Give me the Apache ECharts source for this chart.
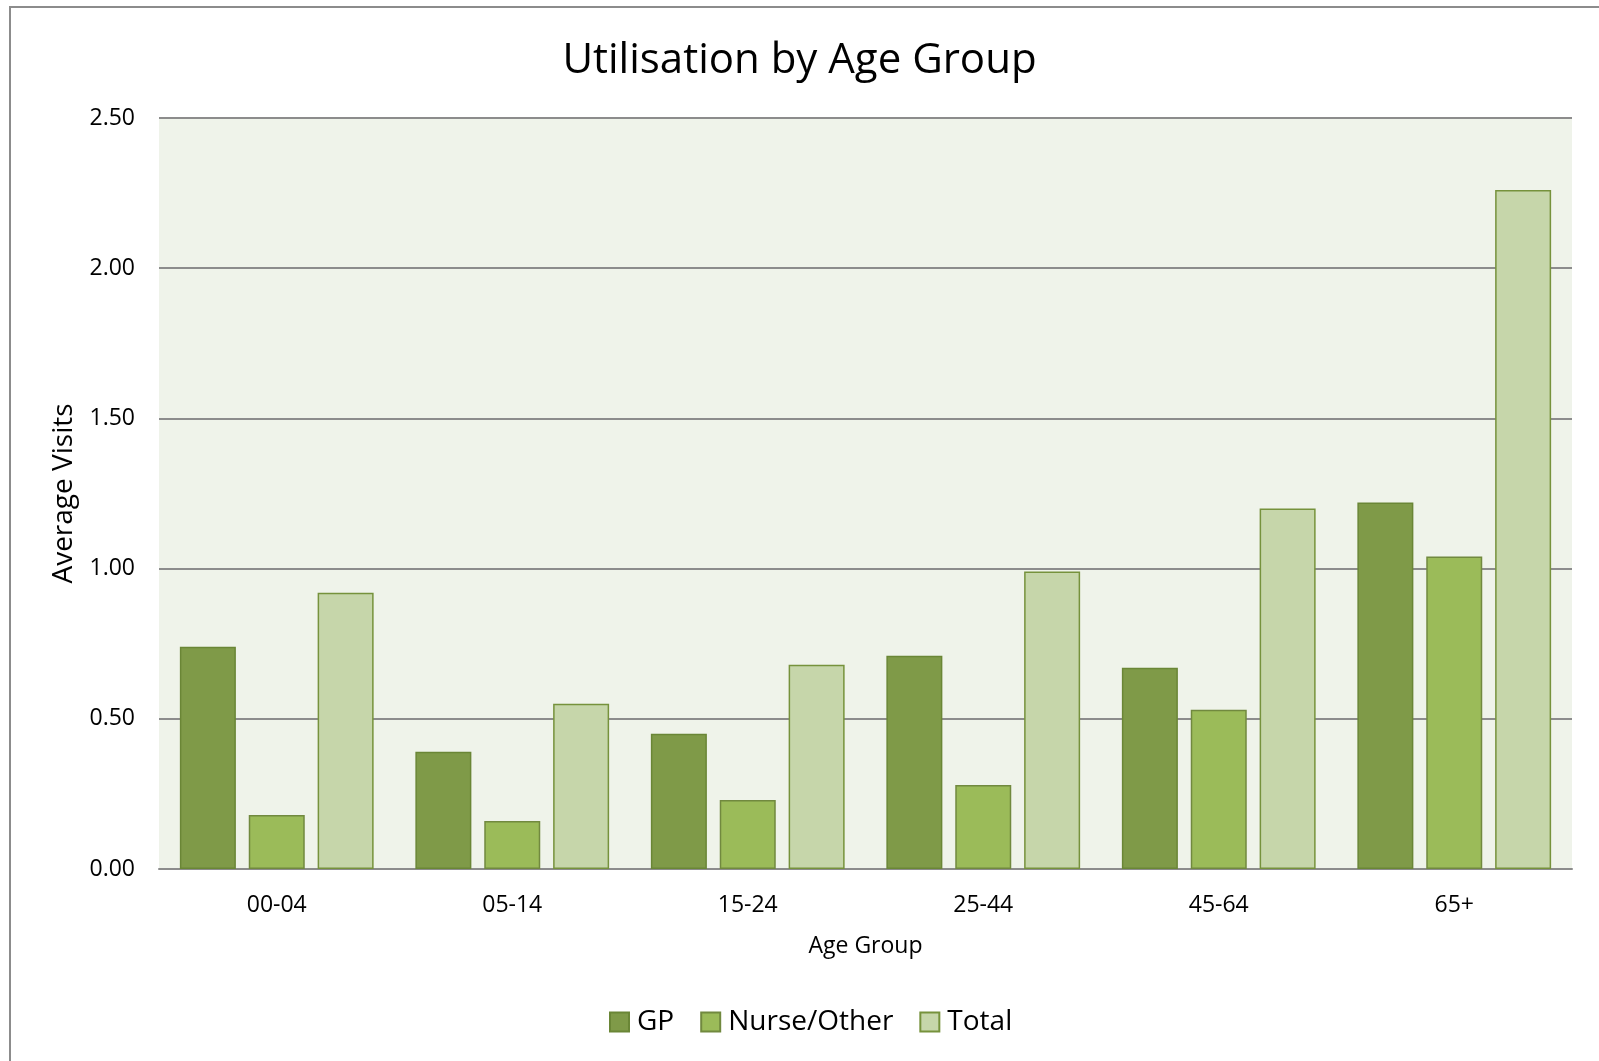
<!DOCTYPE html>
<html>
<head>
<meta charset="utf-8">
<script src="https://cdn.jsdelivr.net/npm/echarts@6/dist/echarts.min.js"></script>
<style>
  html, body { margin: 0; padding: 0; background: #fff; }
  #chart { width: 1599px; height: 1061px; }
</style>
</head>
<body>
<div id="chart"></div>
<script>
// data
const ageGroups = ['00-04', '05-14', '15-24', '25-44', '45-64', '65+']
const gpVisits = [0.74, 0.39, 0.45, 0.71, 0.67, 1.22]
const nurseVisits = [0.18, 0.16, 0.23, 0.28, 0.53, 1.04]
const totalVisits = [0.92, 0.55, 0.68, 0.99, 1.20, 2.26]

const FONT = 'Open Sans'

const barSeries = (name, data, fill, border) => ({
  name,
  type: 'bar',
  data,
  barWidth: 56,
  barGap: '23%',
  itemStyle: { color: fill, borderColor: border, borderWidth: 1.5 },
})

const chart = echarts.init(document.getElementById('chart'))
chart.setOption({
  animation: false,
  title: {
    text: 'Utilisation by Age Group',
    left: 'center',
    top: 35,
    textStyle: { fontFamily: FONT, fontSize: 42, fontWeight: 'normal', color: '#000' },
  },
  legend: {
    bottom: 20,
    left: 604,
    itemWidth: 19,
    itemHeight: 19,
    itemGap: 26,
    icon: 'rect',
    textStyle: { fontFamily: FONT, fontSize: 28, color: '#000', padding: [0, 0, 0, 3] },
    data: ['GP', 'Nurse/Other', 'Total'],
  },
  grid: {
    left: 159,
    right: 27,
    top: 118,
    bottom: 192,
    show: true,
    backgroundColor: '#EFF3EA',
    borderWidth: 0,
  },
  xAxis: {
    type: 'category',
    data: ageGroups,
    name: 'Age Group',
    nameLocation: 'middle',
    nameGap: 66,
    nameTextStyle: { fontFamily: FONT, fontSize: 23, color: '#000' },
    axisLine: { lineStyle: { color: '#8C8C8C', width: 2 } },
    axisTick: { show: false },
    axisLabel: { fontFamily: FONT, fontSize: 23, color: '#000', margin: 25 },
  },
  yAxis: {
    type: 'value',
    min: 0,
    max: 2.5,
    interval: 0.5,
    name: 'Average Visits',
    nameLocation: 'middle',
    nameGap: 81,
    nameTextStyle: { fontFamily: FONT, fontSize: 28, color: '#000' },
    axisLine: { show: false },
    axisTick: { show: false },
    axisLabel: {
      fontFamily: FONT,
      fontSize: 23,
      color: '#000',
      margin: 24,
      formatter: v => v.toFixed(2),
    },
    splitLine: { lineStyle: { color: '#8C8C8C', width: 2 } },
  },
  graphic: [{
    type: 'rect',
    shape: { x: 10, y: 7, width: 1700, height: 1200 },
    style: { fill: 'none', stroke: '#8C8C8C', lineWidth: 2 },
    silent: true,
  }],
  series: [
    barSeries('GP', gpVisits, '#7F9A48', '#6A8636'),
    barSeries('Nurse/Other', nurseVisits, '#9BBB59', '#71893F'),
    barSeries('Total', totalVisits, '#C6D6AA', '#76923C'),
  ],
})
</script>
</body>
</html>
